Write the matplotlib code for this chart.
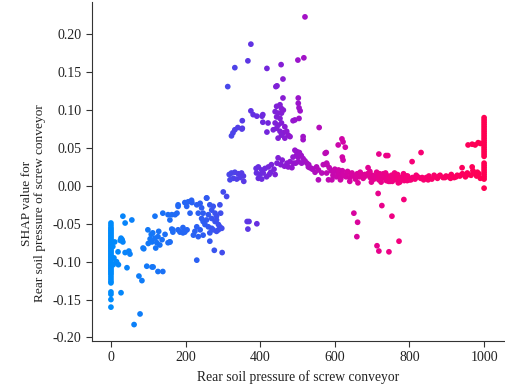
import numpy as np
import matplotlib.pyplot as plt
from matplotlib.colors import LinearSegmentedColormap

plt.rcParams['font.family'] = ['Liberation Serif', 'DejaVu Serif']

# values, grouped by region of the plot
# column of samples at zero pressure
zero_shap = [-0.049, -0.052, -0.055, -0.057, -0.059, -0.061, -0.063, -0.065, -0.067,
             -0.069, -0.071, -0.073, -0.075, -0.077, -0.079, -0.081, -0.083, -0.085,
             -0.087, -0.089, -0.091, -0.093, -0.095, -0.097, -0.099, -0.101, -0.103,
             -0.105, -0.107, -0.109, -0.111, -0.113, -0.115, -0.117, -0.120, -0.123,
             -0.126, -0.128, -0.140, -0.143, -0.150, -0.160]

# low pressure, 0 - 160
low_x = [5, 8, 6, 10, 27, 30, 32, 25, 19, 38, 48, 51, 43, 32, 38, 56, 27, 15, 20, 75,
         83, 78, 62, 88, 96, 110, 113, 126, 139, 99, 105, 110, 118, 123, 131, 126, 137,
         153, 158, 118, 139, 112, 120, 128, 145, 100, 108, 86, 153, 163, 177, 180, 158,
         180, 166, 158]
low_y = [-0.080, -0.095, -0.104, -0.074, -0.069, -0.071, -0.074, -0.072, -0.087, -0.088,
         -0.086, -0.090, -0.108, -0.040, -0.049, -0.045, -0.141, -0.100, -0.104, -0.119,
         -0.125, -0.169, -0.183, -0.083, -0.106, -0.107, -0.107, -0.113, -0.113, -0.058,
         -0.070, -0.074, -0.069, -0.075, -0.078, -0.067, -0.071, -0.075, -0.074, -0.040,
         -0.036, -0.062, -0.082, -0.060, -0.064, -0.076, -0.064, -0.082, -0.038, -0.038,
         -0.036, -0.025, -0.045, -0.058, -0.058, -0.074]

# middle pressure, 160 - 310
mid_x = [185, 193, 204, 198, 207, 216, 180, 203, 212, 230, 239, 243, 234, 247, 243, 247,
         252, 256, 261, 265, 270, 274, 279, 270, 279, 283, 288, 292, 297, 288, 256, 301,
         310, 292, 294, 283, 261, 270, 274, 239, 230, 225, 221, 234, 247, 265, 283, 265,
         277, 298, 230, 172, 163, 166, 193, 198, 217, 257]
mid_y = [-0.061, -0.062, -0.058, -0.022, -0.021, -0.019, -0.027, -0.027, -0.036, -0.025,
         -0.023, -0.029, -0.036, -0.036, -0.043, -0.047, -0.051, -0.045, -0.038, -0.025,
         -0.032, -0.027, -0.036, -0.043, -0.047, -0.045, -0.051, -0.054, -0.056, -0.058,
         -0.016, -0.008, -0.014, -0.025, -0.036, -0.040, -0.054, -0.056, -0.058, -0.058,
         -0.054, -0.060, -0.065, -0.067, -0.065, -0.062, -0.060, -0.073, -0.085, -0.088,
         -0.098, -0.038, -0.057, -0.061, -0.055, -0.061, -0.022, -0.016]

# purple region, 310 - 560
upper_x = [317, 323, 332, 341, 350, 355, 328, 337, 346, 356, 319, 389, 395, 404, 413, 422,
           390, 399, 408, 417, 424, 395, 404, 430, 437, 445, 440, 428, 448, 459, 472, 480,
           488, 499, 501, 493, 510, 505, 515, 520, 525, 533, 547, 530, 540, 455, 465, 475,
           485, 495, 365, 370, 367, 391, 375, 367, 332, 313, 418, 456, 461, 442, 445, 501,
           517, 520, 461, 375, 381, 391, 405, 407, 352, 352, 327, 332, 340, 351, 323, 407,
           421, 418, 444, 453, 457, 440, 448, 457, 462, 444, 453, 440, 448, 457, 466, 435,
           444, 453, 462, 471, 475, 480, 448, 466, 457, 488, 493, 502, 502, 504, 507, 504,
           558, 515, 515, 577, 498, 489, 502, 511, 529, 538, 551, 556, 556]
upper_y = [0.015, 0.017, 0.018, 0.016, 0.017, 0.013, 0.010, 0.009, 0.011, 0.006, 0.008,
           0.023, 0.025, 0.021, 0.023, 0.025, 0.017, 0.015, 0.017, 0.012, 0.015, 0.010,
           0.009, 0.028, 0.022, 0.030, 0.015, 0.018, 0.037, 0.034, 0.030, 0.032, 0.038,
           0.045, 0.038, 0.047, 0.040, 0.044, 0.036, 0.033, 0.030, 0.024, 0.018, 0.028,
           0.022, 0.028, 0.026, 0.025, 0.024, 0.030, -0.047, -0.047, -0.057, -0.050, 0.187,
           0.165, 0.156, 0.131, 0.155, 0.160, 0.141, 0.131, 0.132, 0.166, 0.169, 0.223,
           0.116, 0.099, 0.094, 0.092, 0.092, 0.094, 0.086, 0.076, 0.070, 0.074, 0.077,
           0.075, 0.066, 0.084, 0.083, 0.071, 0.105, 0.107, 0.102, 0.098, 0.096, 0.096,
           0.100, 0.091, 0.089, 0.083, 0.080, 0.083, 0.078, 0.074, 0.076, 0.072, 0.070,
           0.072, 0.067, 0.065, 0.063, 0.063, 0.067, 0.086, 0.087, 0.116, 0.109, 0.103,
           0.099, 0.089, 0.077, 0.065, 0.061, 0.044, 0.041, 0.030, 0.032, 0.030, 0.025,
           0.023, 0.025, 0.021, 0.008]

# flat band, 560 - 990
band_x = [565, 569, 578, 578, 583, 590, 595, 600, 604, 608, 612, 616, 620, 625, 630, 635,
          640, 645, 650, 655, 660, 665, 670, 676, 682, 688, 695, 700, 705, 710, 714, 718,
          722, 726, 730, 734, 738, 742, 746, 750, 754, 758, 762, 766, 770, 774, 778, 782,
          786, 790, 795, 800, 808, 815, 822, 830, 838, 845, 852, 860, 868, 875, 882, 890,
          898, 905, 912, 920, 928, 935, 942, 950, 958, 965, 972, 980, 986,
          585, 598, 610, 622, 634, 646, 658, 668, 680, 692, 703, 712, 720, 728, 736, 744,
          752, 760, 768, 776, 784, 792, 804, 818, 834, 850, 866, 880, 895, 910, 925, 940,
          955, 970, 982, 990, 592, 615, 640, 662, 698, 724, 748, 770, 794]
band_y = [0.017, 0.028, 0.017, 0.030, 0.008, 0.020, 0.014, 0.022, 0.012, 0.018, 0.016,
          0.010, 0.020, 0.014, 0.012, 0.018, 0.011, 0.015, 0.013, 0.009, 0.016, 0.012,
          0.014, 0.010, 0.013, 0.016, 0.011, 0.014, 0.009, 0.012, 0.015, 0.008, 0.013,
          0.010, 0.016, 0.011, 0.007, 0.013, 0.009, 0.012, 0.006, 0.010, 0.014, 0.008,
          0.011, 0.005, 0.009, 0.012, 0.007, 0.010, 0.013, 0.008, 0.011, 0.009, 0.012,
          0.010, 0.008, 0.011, 0.013, 0.009, 0.012, 0.010, 0.014, 0.011, 0.013, 0.012,
          0.015, 0.011, 0.014, 0.013, 0.016, 0.012, 0.015, 0.014, 0.017, 0.013, 0.016,
          0.024, 0.019, 0.021, 0.015, 0.019, 0.017, 0.013, 0.018, 0.015, 0.017, 0.013,
          0.018, 0.016, 0.014, 0.017, 0.006, 0.014, 0.017, 0.015, 0.011, 0.016, 0.013,
          0.008, 0.014, 0.011, 0.008, 0.014, 0.013, 0.011, 0.010, 0.012, 0.015, 0.017,
          0.020, 0.018, 0.010, 0.008, 0.008, 0.006, 0.004, 0.005, 0.005, 0.006, 0.004,
          0.007]

# scattered high pressure samples, 560 - 1000
high_x = [619, 622, 609, 628, 620, 622, 579, 574, 689, 694, 718, 737, 742, 831, 807, 957,
          968, 976, 984, 990, 941, 968, 716, 785, 726, 651, 753, 661, 659, 772, 713, 718,
          745]
high_y = [0.062, 0.058, 0.054, 0.051, 0.038, 0.034, 0.028, 0.043, 0.024, 0.019, 0.042,
          0.040, 0.040, 0.044, 0.032, 0.054, 0.055, 0.054, 0.057, 0.056, 0.024, 0.025,
          -0.010, -0.018, -0.026, -0.036, -0.040, -0.048, -0.067, -0.073, -0.079, -0.086,
          -0.087]

# column at maximum pressure
max_shap = [0.090, 0.087, 0.084, 0.081, 0.078, 0.075, 0.072, 0.069, 0.066, 0.063, 0.060,
            0.057, 0.054, 0.051, 0.048, 0.045, 0.042, 0.039, 0.030, 0.027, 0.024, 0.021,
            0.018, 0.015, 0.012, 0.009, -0.003]

x_ticks = [0, 200, 400, 600, 800, 1000]
y_ticks = [-0.20, -0.15, -0.10, -0.05, 0.00, 0.05, 0.10, 0.15, 0.20]
y_tick_labels = ['-0.20', '-0.15', '-0.10', '-0.05', '0.00', '0.05', '0.10', '0.15', '0.20']

pressure = np.concatenate([np.zeros(len(zero_shap)), low_x, mid_x, upper_x, band_x,
                           high_x, np.full(len(max_shap), 1000)])
shap_val = np.concatenate([zero_shap, low_y, mid_y, upper_y, band_y, high_y, max_shap])

# shap style red-blue colour map
cmap = LinearSegmentedColormap.from_list('red_blue', [
    (0.0, '#008bfb'), (0.25, '#2f5cf2'), (0.4, '#6a2be0'), (0.5, '#9a14cc'),
    (0.62, '#d005a8'), (0.78, '#f5007c'), (1.0, '#ff0052')])

fig = plt.figure(figsize=(5.05, 3.9), dpi=100)
ax = fig.add_axes([0.182, 0.126, 0.818, 0.869])

ax.scatter(pressure, shap_val, c=pressure, cmap=cmap, vmin=0, vmax=1000,
           s=17, linewidths=0, zorder=3)

ax.set_xlim(-51, 1056)
ax.set_ylim(-0.2045, 0.2427)
ax.set_xticks(x_ticks)
ax.set_yticks(y_ticks)
ax.set_yticklabels(y_tick_labels)

ax.spines['top'].set_visible(False)
ax.spines['right'].set_visible(False)
for s in ['left', 'bottom']:
    ax.spines[s].set_color('#333333')
ax.tick_params(colors='#333333', labelcolor='#222222', labelsize=10, length=4)

ax.set_xlabel('Rear soil pressure of screw conveyor', fontsize=9.8, color='#222222')
ax.set_ylabel('SHAP value for\nRear soil pressure of screw conveyor', fontsize=9.6,
              color='#222222', linespacing=1.1)
ax.yaxis.set_label_coords(-0.112, 0.405)

fig.savefig('out.png', dpi=100)
